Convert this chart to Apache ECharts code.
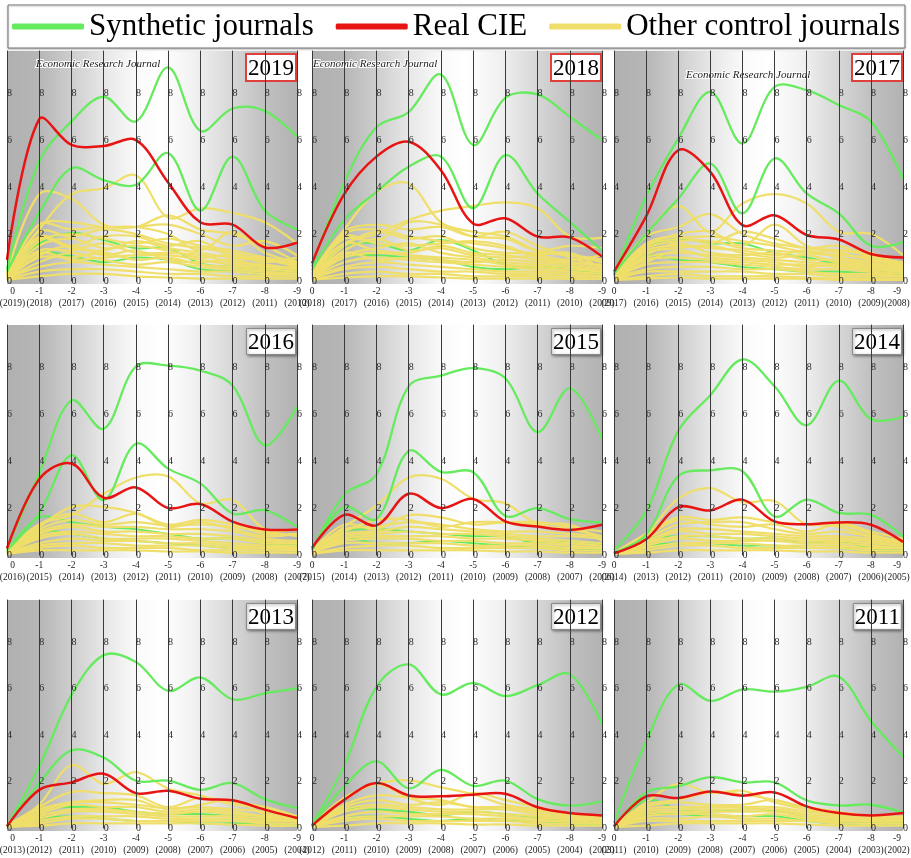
<!DOCTYPE html>
<html><head><meta charset="utf-8">
<script src="https://cdn.jsdelivr.net/npm/echarts@6/dist/echarts.min.js"></script>
<style>html,body{margin:0;padding:0;background:#fff}#c{width:911px;height:858px}</style>
</head><body><div id="c"></div><script>
// ---------- DATA ----------
const offsetLabels = ['0','-1','-2','-3','-4','-5','-6','-7','-8','-9'];
const panelYears = [2019, 2018, 2017, 2016, 2015, 2014, 2013, 2012, 2011];
const legendNames = ['Synthetic journals', 'Real CIE', 'Other control journals'];

const red2019 = [0.9,6.9,5.8,5.75,6.0,4.2,2.5,2.4,1.43,1.63];
const greenMain2019 = [[0.5,5.1,6.8,7.85,6.8,9.1,6.4,7.35,7.25,6.15],[0.4,2.9,4.8,4.3,4.1,5.45,3.0,5.3,3.0,2.2]];
const greenLow2019 = [[0.3,1.6,2.05,1.75,1.4,1.4,0.75,0.6,0.5,0.4],[0.2,1.2,1.05,0.8,1.0,0.9,0.5,0.4,0.3,0.3]];
const yellow2019 = [
 [0.3,3.7,3.5,2.4,2.3,2.8,2.2,2.0,1.5,0.8],[0.4,2.2,3.7,3.95,4.5,2.7,3.1,2.9,2.5,1.6],
 [0.3,2.4,2.5,2.3,2.3,2.0,1.3,2.1,1.2,0.8],[0.2,2.4,2.2,2.3,2.3,2.4,2.0,1.5,1.7,1.1],
 [0.2,1.7,2.0,1.8,1.6,1.8,1.5,1.3,1.0,0.7],[0.3,1.9,1.5,1.9,1.9,1.5,1.7,1.0,0.9,0.6],
 [0.2,2.1,1.9,2.2,2.0,1.6,1.4,1.2,0.9,0.8],[0.2,1.8,1.4,1.3,1.7,1.4,1.2,1.0,1.0,0.7],
 [0.2,1.5,1.8,1.4,1.5,1.3,1.0,1.1,0.8,1.0],[0.2,1.3,1.3,1.6,1.2,1.2,1.1,0.8,0.7,0.5],
 [0.1,1.2,0.9,1.0,1.1,1.1,0.9,0.7,0.6,0.5],
 [0.1,1.1,1.5,1.1,1.3,0.9,0.8,0.9,0.6,0.6],[0.1,1.0,1.0,1.2,0.9,1.0,0.7,0.6,0.5,0.4],
 [0.1,0.8,1.2,0.9,0.7,0.8,0.6,0.5,0.4,0.3],[0.1,0.6,0.8,0.7,0.6,0.5,0.4,0.4,0.3,0.3],
 [0.05,0.4,0.5,0.5,0.4,0.3,0.3,0.2,0.2,0.2],[0.05,0.2,0.3,0.3,0.2,0.15,0.1,0.1,0.1,0.1]];

const red2018 = [0.75,3.7,5.3,5.93,4.72,2.45,2.67,1.89,1.86,1.04];
const greenMain2018 = [[0.6,4.2,6.55,7.2,8.8,5.8,7.8,7.95,7.0,6.0],[0.47,2.6,3.8,4.87,5.3,3.1,5.36,3.73,2.52,1.3]];
const greenLow2018 = [[0.3,1.5,1.6,1.3,1.75,1.3,0.7,0.6,0.5,0.3],[0.2,1.0,1.1,1.0,0.9,0.6,0.5,0.6,0.6,0.3]];
const yellow2018 = [
 [0.4,2.2,3.8,4.15,2.5,2.1,1.9,1.3,1.1,0.8],[0.4,1.6,2.0,2.6,3.0,3.2,3.35,3.1,1.9,1.85],
 [0.3,2.1,2.4,2.2,2.3,1.9,2.1,1.5,1.0,0.6],[0.3,1.8,1.7,2.5,2.4,1.9,1.8,1.3,1.5,1.4],
 [0.2,1.5,2.1,1.8,1.9,1.4,1.2,1.2,1.1,0.9],[0.3,1.9,1.6,1.5,1.6,1.7,1.5,1.0,0.8,0.7],
 [0.2,2.0,2.2,1.9,1.7,1.6,1.4,1.1,0.9,1.1],[0.2,1.6,1.3,1.2,1.5,1.2,1.1,0.9,0.8,0.6],
 [0.1,1.2,0.9,1.0,0.9,0.8,0.9,0.8,0.7,0.5],
 [0.2,1.3,1.8,1.3,1.4,1.1,1.0,1.1,1.2,0.5],[0.2,1.1,1.4,1.6,1.2,1.0,0.8,0.7,0.6,0.4],
 [0.1,1.0,1.2,1.1,1.0,0.9,0.7,0.6,0.5,0.4],[0.1,0.8,1.0,0.9,0.8,0.7,0.6,0.5,0.4,0.3],
 [0.1,0.6,0.8,0.7,0.6,0.5,0.4,0.4,0.3,0.2],[0.1,0.5,0.6,0.5,0.4,0.4,0.3,0.3,0.2,0.2],
 [0.05,0.3,0.4,0.3,0.3,0.2,0.2,0.2,0.1,0.1],[0.05,0.15,0.2,0.2,0.15,0.1,0.1,0.1,0.1,0.1]];

const red2017 = [0.4,2.75,5.57,4.65,2.38,2.8,1.96,1.77,1.15,1.0];
const greenMain2017 = [[0.25,3.6,6.07,8.06,5.86,8.27,8.13,7.5,6.8,4.37],[0.3,2.0,3.5,5.0,2.88,5.22,3.73,2.88,1.5,1.65]];
const greenLow2017 = [[0.3,1.4,1.8,1.6,1.6,1.2,1.0,0.7,0.5,0.4],[0.2,1.1,0.9,0.8,0.6,0.5,0.4,0.4,0.3,0.3]];
const yellow2017 = [
 [0.3,2.0,3.2,2.1,3.3,3.7,3.3,2.1,2.0,1.1],[0.3,1.9,2.3,2.85,2.0,1.6,1.4,1.3,1.1,0.7],
 [0.3,1.5,2.0,2.1,1.5,2.4,1.5,1.2,0.9,0.6],[0.2,1.6,1.9,1.6,2.1,1.8,1.4,1.5,1.0,0.7],
 [0.2,1.4,1.7,1.7,1.4,1.3,1.2,1.3,1.2,0.6],[0.2,1.3,1.5,1.4,1.3,1.1,1.3,1.0,0.8,0.5],
 [0.2,1.5,1.8,1.9,1.7,1.5,1.2,1.1,1.0,0.8],[0.2,1.2,1.4,1.5,1.2,1.0,1.1,0.8,0.7,0.6],
 [0.1,0.8,1.3,1.0,0.9,0.8,0.6,0.7,0.5,0.4],
 [0.2,1.1,1.6,1.2,1.1,1.2,0.9,0.9,0.7,0.5],[0.1,1.0,1.2,1.1,1.0,0.9,0.8,0.7,0.6,0.4],
 [0.1,0.9,1.0,0.9,0.8,0.7,0.7,0.6,0.5,0.4],[0.1,0.7,0.8,0.8,0.7,0.6,0.5,0.5,0.4,0.3],
 [0.1,0.5,0.6,0.6,0.5,0.5,0.4,0.3,0.3,0.2],[0.05,0.4,0.4,0.4,0.4,0.3,0.3,0.2,0.2,0.2],
 [0.05,0.2,0.3,0.2,0.2,0.2,0.15,0.1,0.1,0.1],[0.05,0.1,0.15,0.1,0.1,0.1,0.1,0.05,0.05,0.05]];

const red2016 = [0.28,3.23,3.9,2.44,2.88,2.0,2.17,1.42,1.09,1.09];
const greenMain2016 = [[0.28,3.47,6.59,5.38,8.03,8.07,7.86,7.22,4.67,6.3],[0.2,1.77,4.25,2.34,4.74,3.68,3.05,1.77,1.91,1.2]];
const greenLow2016 = [[0.2,1.6,1.4,1.2,1.1,0.9,0.7,0.7,0.5,0.4],[0.1,1.0,0.9,0.7,0.6,0.5,0.4,0.3,0.3,0.2]];
const yellow2016 = [
 [0.2,1.3,1.7,2.6,3.3,3.35,2.2,2.35,1.1,1.1],[0.3,1.2,2.05,2.05,1.8,1.3,1.5,1.3,0.9,0.9],
 [0.2,1.3,1.75,1.4,1.75,1.2,1.4,1.1,0.8,0.9],[0.2,1.1,1.5,1.3,1.4,1.25,1.3,1.2,1.0,0.8],
 [0.2,1.0,1.3,1.2,1.2,1.1,1.1,1.0,0.7,0.6],[0.1,0.9,1.2,1.0,1.0,0.9,0.9,0.8,0.6,0.5],
 [0.1,0.8,1.0,0.9,0.8,0.8,0.7,0.7,0.5,0.5],[0.1,0.7,0.9,0.7,0.7,0.7,0.6,0.5,0.4,0.4],
 [0.1,0.5,0.7,0.6,0.6,0.5,0.5,0.4,0.3,0.3],[0.05,0.4,0.5,0.5,0.4,0.4,0.4,0.3,0.3,0.2],
 [0.05,0.3,0.4,0.3,0.3,0.3,0.2,0.2,0.2,0.2],[0.05,0.2,0.2,0.2,0.2,0.15,0.15,0.1,0.1,0.1]];

const red2015 = [0.3,1.71,1.26,2.61,2.0,2.39,1.43,1.21,1.07,1.29];
const greenMain2015 = [[0.2,2.57,3.43,7.19,7.64,7.96,7.53,5.24,7.1,4.96],[0.2,2.04,1.53,4.43,3.54,3.53,1.67,2.0,1.53,1.39]];
const greenLow2015 = [[0.2,1.0,1.1,1.0,0.9,0.8,0.8,0.5,0.6,0.4],[0.1,0.7,0.5,0.5,0.6,0.5,0.4,0.3,0.3,0.2]];
const yellow2015 = [
 [0.2,1.2,2.1,3.3,3.25,2.4,2.2,1.3,1.1,0.8],[0.2,1.3,1.1,1.7,1.6,1.3,1.4,1.4,1.2,1.0],
 [0.3,1.0,1.5,1.5,1.2,1.4,1.4,1.3,1.3,0.6],[0.2,1.1,1.2,1.4,1.3,1.1,1.0,1.0,0.9,0.8],
 [0.2,0.9,1.0,1.2,1.1,1.0,0.9,0.8,0.8,0.7],[0.1,0.8,0.9,1.0,0.9,0.9,0.8,0.7,0.6,0.5],
 [0.1,0.7,0.8,0.8,0.8,0.7,0.7,0.6,0.5,0.4],[0.1,0.6,0.7,0.7,0.6,0.6,0.5,0.5,0.4,0.3],
 [0.1,0.5,0.5,0.5,0.5,0.4,0.4,0.4,0.3,0.3],[0.05,0.3,0.4,0.4,0.3,0.3,0.3,0.3,0.2,0.2],
 [0.05,0.2,0.2,0.2,0.2,0.2,0.15,0.15,0.1,0.1]];

const red2014 = [0.07,0.67,2.04,1.9,2.36,1.43,1.31,1.39,1.29,0.56];
const greenMain2014 = [[0.21,1.86,5.29,6.81,8.33,7.19,5.53,7.43,5.79,5.89],[0.1,0.86,3.36,3.61,3.57,1.64,2.36,1.79,1.71,0.79]];
const greenLow2014 = [[0.1,0.7,0.8,0.8,0.7,0.7,0.5,0.6,0.3,0.3],[0.05,0.4,0.5,0.5,0.4,0.4,0.3,0.3,0.2,0.2]];
const yellow2014 = [
 [0.1,0.9,2.4,2.85,2.25,2.3,1.3,1.4,1.0,0.7],[0.1,0.9,1.6,1.5,1.6,1.4,1.3,1.2,0.8,0.6],
 [0.1,0.8,1.5,1.3,1.2,1.3,1.0,1.3,0.9,0.5],[0.1,0.7,1.3,1.4,1.4,1.1,0.9,1.0,0.8,0.6],
 [0.1,0.6,1.1,1.1,1.0,0.9,0.8,0.8,0.7,0.5],[0.1,0.5,1.0,0.9,0.9,0.8,0.7,0.7,0.6,0.4],
 [0.05,0.5,0.8,0.8,0.7,0.7,0.6,0.6,0.5,0.4],[0.05,0.4,0.7,0.6,0.6,0.6,0.5,0.5,0.4,0.3],
 [0.05,0.3,0.5,0.5,0.5,0.4,0.4,0.4,0.3,0.3],[0.05,0.2,0.4,0.4,0.3,0.3,0.3,0.3,0.2,0.2],
 [0.05,0.1,0.2,0.2,0.2,0.2,0.15,0.15,0.1,0.1]];

const red2013 = [0.07,1.64,1.96,2.33,1.5,1.6,1.26,1.19,0.79,0.43];
const greenMain2013 = [[0.07,2.64,5.71,7.43,7.14,5.89,6.47,5.53,5.79,6.0],[0.07,1.93,3.33,3.03,2.03,2.04,1.64,1.93,1.24,0.86]];
const greenLow2013 = [[0.05,0.8,0.9,0.9,0.7,0.6,0.6,0.5,0.4,0.3],[0.05,0.4,0.5,0.4,0.3,0.3,0.2,0.2,0.2,0.1]];
const yellow2013 = [
 [0.1,1.0,2.7,1.9,2.4,1.7,1.4,1.0,0.9,0.5],[0.1,0.9,1.55,1.5,1.4,0.9,1.3,1.1,0.9,0.4],
 [0.1,0.8,1.1,1.2,1.2,0.8,1.0,1.2,0.6,0.5],[0.1,0.7,1.1,1.1,1.0,0.85,0.9,0.8,0.7,0.4],
 [0.05,0.6,1.0,0.9,0.9,0.7,0.8,0.7,0.5,0.4],[0.05,0.5,0.8,0.8,0.7,0.6,0.7,0.6,0.5,0.3],
 [0.05,0.4,0.7,0.7,0.6,0.5,0.5,0.5,0.4,0.3],[0.05,0.3,0.5,0.5,0.5,0.4,0.4,0.4,0.3,0.3],
 [0.05,0.2,0.4,0.4,0.3,0.3,0.3,0.3,0.2,0.2],[0.05,0.1,0.2,0.2,0.2,0.2,0.2,0.15,0.1,0.1]];

const red2012 = [0.1,1.21,1.93,1.4,1.36,1.43,1.47,0.89,0.64,0.54];
const greenMain2012 = [[0.14,2.67,6.07,7.03,5.74,6.24,5.67,6.14,6.61,4.46],[0.1,1.79,2.86,1.71,2.5,1.81,2.04,1.24,0.96,1.14]];
const greenLow2012 = [[0.05,0.8,0.8,0.7,0.55,0.7,0.6,0.45,0.3,0.25],[0.05,0.4,0.5,0.4,0.3,0.4,0.3,0.3,0.2,0.15]];
const yellow2012 = [
 [0.1,1.3,1.9,2.05,1.75,1.45,1.0,0.8,0.6,0.5],[0.1,1.2,1.9,1.3,1.0,1.5,1.2,0.9,0.6,0.5],
 [0.1,1.0,1.4,1.3,1.2,0.9,0.9,0.7,0.6,0.4],[0.1,0.9,1.2,1.0,1.1,0.9,0.9,0.8,0.5,0.4],
 [0.05,0.8,1.0,0.9,0.8,0.8,0.8,0.6,0.5,0.4],[0.05,0.7,0.9,0.8,0.7,0.7,0.6,0.5,0.4,0.3],
 [0.05,0.5,0.7,0.6,0.6,0.6,0.5,0.4,0.4,0.3],[0.05,0.4,0.5,0.5,0.5,0.4,0.4,0.3,0.3,0.2],
 [0.05,0.3,0.4,0.3,0.3,0.3,0.3,0.2,0.2,0.2],[0.05,0.1,0.2,0.2,0.2,0.15,0.15,0.1,0.1,0.1]];

const red2011 = [0.07,1.36,1.29,1.57,1.39,1.53,0.93,0.64,0.54,0.64];
const greenMain2011 = [[0.21,3.71,6.17,5.46,5.96,5.86,6.07,6.5,4.6,3.07],[0.07,1.53,1.79,2.19,1.96,1.96,1.19,0.97,1.0,0.67]];
const greenLow2011 = [[0.05,1.2,0.8,0.7,0.8,0.75,0.5,0.35,0.3,0.3],[0.05,0.6,0.6,0.5,0.5,0.5,0.3,0.2,0.2,0.2]];
const yellow2011 = [
 [0.1,1.1,1.9,1.5,1.6,1.1,0.8,0.6,0.5,0.4],[0.1,1.0,1.2,1.55,1.45,1.2,0.9,0.7,0.5,0.4],
 [0.1,0.9,1.1,1.0,1.0,1.2,0.8,0.6,0.5,0.5],[0.05,0.8,0.9,0.9,0.9,0.9,0.7,0.6,0.5,0.4],
 [0.05,0.7,0.8,0.8,0.8,0.8,0.6,0.5,0.4,0.4],[0.05,0.6,0.7,0.7,0.7,0.7,0.5,0.4,0.4,0.3],
 [0.05,0.5,0.6,0.6,0.5,0.6,0.4,0.4,0.3,0.3],[0.05,0.4,0.4,0.5,0.4,0.4,0.3,0.3,0.3,0.3],
 [0.05,0.3,0.3,0.3,0.3,0.3,0.3,0.2,0.2,0.2],[0.05,0.1,0.2,0.2,0.2,0.2,0.15,0.1,0.1,0.1]];

const panelData = [
  {red: red2019, gMain: greenMain2019, gLow: greenLow2019, yellow: yellow2019},
  {red: red2018, gMain: greenMain2018, gLow: greenLow2018, yellow: yellow2018},
  {red: red2017, gMain: greenMain2017, gLow: greenLow2017, yellow: yellow2017},
  {red: red2016, gMain: greenMain2016, gLow: greenLow2016, yellow: yellow2016},
  {red: red2015, gMain: greenMain2015, gLow: greenLow2015, yellow: yellow2015},
  {red: red2014, gMain: greenMain2014, gLow: greenLow2014, yellow: yellow2014},
  {red: red2013, gMain: greenMain2013, gLow: greenLow2013, yellow: yellow2013},
  {red: red2012, gMain: greenMain2012, gLow: greenLow2012, yellow: yellow2012},
  {red: red2011, gMain: greenMain2011, gLow: greenLow2011, yellow: yellow2011}
];

// ---------- LAYOUT / STYLE ----------
const W = 911;
const SERIF = "'Liberation Serif', 'Times New Roman', serif";
const GREEN = '#66ea5e', RED = '#e81414', YELLOW = '#efdf6a';
const colLeft = [7, 312, 614], colWidth = [290, 290, 289];
const rowTop = [51, 325, 600], rowHeight = [230, 230, 228];
const Y_MAX = 9.8;

const bgGradient = {
  type: 'linear', x: 0, y: 0, x2: 1, y2: 0,
  colorStops: [
    {offset: 0, color: '#b0b0b0'}, {offset: 0.11, color: '#b6b6b6'},
    {offset: 0.22, color: '#cdcdcd'}, {offset: 0.33, color: '#e6e6e6'},
    {offset: 0.45, color: '#fafafa'}, {offset: 0.53, color: '#ffffff'},
    {offset: 0.64, color: '#f2f2f2'}, {offset: 0.78, color: '#d6d6d6'},
    {offset: 0.89, color: '#c0c0c0'}, {offset: 1, color: '#b2b2b2'}
  ]
};

const grids = [], xAxes = [], yAxes = [], parallels = [], pAxes = [], series = [], titles = [];
panelYears.forEach((year, k) => {
  const r = Math.floor(k / 3), c = k % 3;
  const left = colLeft[c], width = colWidth[c], top = rowTop[r], height = rowHeight[r];
  grids.push({left, top, width, height: height + 3, show: true, borderWidth: 0, backgroundColor: bgGradient});
  xAxes.push({gridIndex: k, show: false, type: 'value'});
  yAxes.push({gridIndex: k, show: false, type: 'value'});
  parallels.push({left, top, width, height, layout: 'horizontal', axisExpandable: false});
  offsetLabels.forEach((lab, i) => {
    const nts = {fontFamily: SERIF, fontSize: 9.5, color: '#222', lineHeight: 12};
    if (c === 0 && i === 0) nts.padding = [0, 0, 0, 11];
    if (c === 2 && i === 9) nts.padding = [0, 12, 0, 0];
    pAxes.push({
      dim: i, parallelIndex: k, type: 'value', min: 0, max: Y_MAX, interval: 2,
      name: lab + '\n(' + (year - i) + ')', nameLocation: 'start', nameGap: 4,
      nameTextStyle: nts,
      axisLine: {show: true, lineStyle: {color: '#3a3a3a', width: 1}},
      axisTick: {show: false},
      axisLabel: {show: true, margin: 0, fontSize: 10, color: '#2a2a2a', fontFamily: SERIF, showMaxLabel: false},
      splitLine: {show: false}
    });
  });
  const d = panelData[k];
  const base = {type: 'parallel', parallelIndex: k, smooth: 0.35, silent: true, animation: false, emphasis: {disabled: true}};
  series.push(Object.assign({}, base, {name: legendNames[0], color: GREEN, lineStyle: {color: GREEN, width: 2, opacity: 1}, data: d.gLow}));
  series.push(Object.assign({}, base, {name: legendNames[2], color: YELLOW, lineStyle: {color: YELLOW, width: 2.2, opacity: 1}, data: d.yellow}));
  series.push(Object.assign({}, base, {name: legendNames[0], color: GREEN, lineStyle: {color: GREEN, width: 2.3, opacity: 1}, data: d.gMain}));
  series.push(Object.assign({}, base, {name: legendNames[1], color: RED, lineStyle: {color: RED, width: 2.5, opacity: 1}, data: [d.red]}));

  const badge = {
    text: String(year), right: W - (left + width) + 1, top: top + 3, padding: [3, 2, 1, 2],
    backgroundColor: '#fff',
    textStyle: {fontFamily: SERIF, fontSize: 23, fontWeight: 'normal', color: '#000'}
  };
  if (r === 0) { badge.borderColor = '#e0403c'; badge.borderWidth = 2; }
  else { badge.borderColor = '#8a8a8a'; badge.borderWidth = 1; badge.shadowBlur = 3; badge.shadowColor = 'rgba(0,0,0,0.45)'; badge.shadowOffsetX = 1; badge.shadowOffsetY = 1; }
  titles.push(badge);
});

const erjStyle = {fontFamily: SERIF, fontSize: 11, fontStyle: 'italic', fontWeight: 'normal', color: '#222', textBorderColor: '#fff', textBorderWidth: 2};
titles.push({text: 'Economic Research Journal', left: 36, top: 59, padding: 0, textStyle: erjStyle});
titles.push({text: 'Economic Research Journal', left: 313, top: 59, padding: 0, textStyle: erjStyle});
titles.push({text: 'Economic Research Journal', left: 686, top: 70, padding: 0, textStyle: erjStyle});

const option = {
  animation: false,
  backgroundColor: '#fff',
  title: titles,
  legend: {
    left: 8, top: 5, padding: [6, 5, 6, 4], itemGap: 22, itemWidth: 72, itemHeight: 6,
    icon: 'roundRect', borderColor: '#777', borderWidth: 1,
    shadowBlur: 2, shadowColor: 'rgba(0,0,0,0.25)', shadowOffsetY: 1, backgroundColor: '#fff',
    textStyle: {fontFamily: SERIF, fontSize: 31, color: '#000'},
    data: [
      {name: legendNames[0], itemStyle: {color: GREEN, borderWidth: 0}},
      {name: legendNames[1], itemStyle: {color: RED, borderWidth: 0}},
      {name: legendNames[2], itemStyle: {color: YELLOW, borderWidth: 0}}
    ],
    selectedMode: false
  },
  grid: grids, xAxis: xAxes, yAxis: yAxes,
  parallel: parallels, parallelAxis: pAxes,
  series: series
};
const chart = echarts.init(document.getElementById('c'), null, {renderer: 'canvas'});
chart.setOption(option);
</script></body></html>
